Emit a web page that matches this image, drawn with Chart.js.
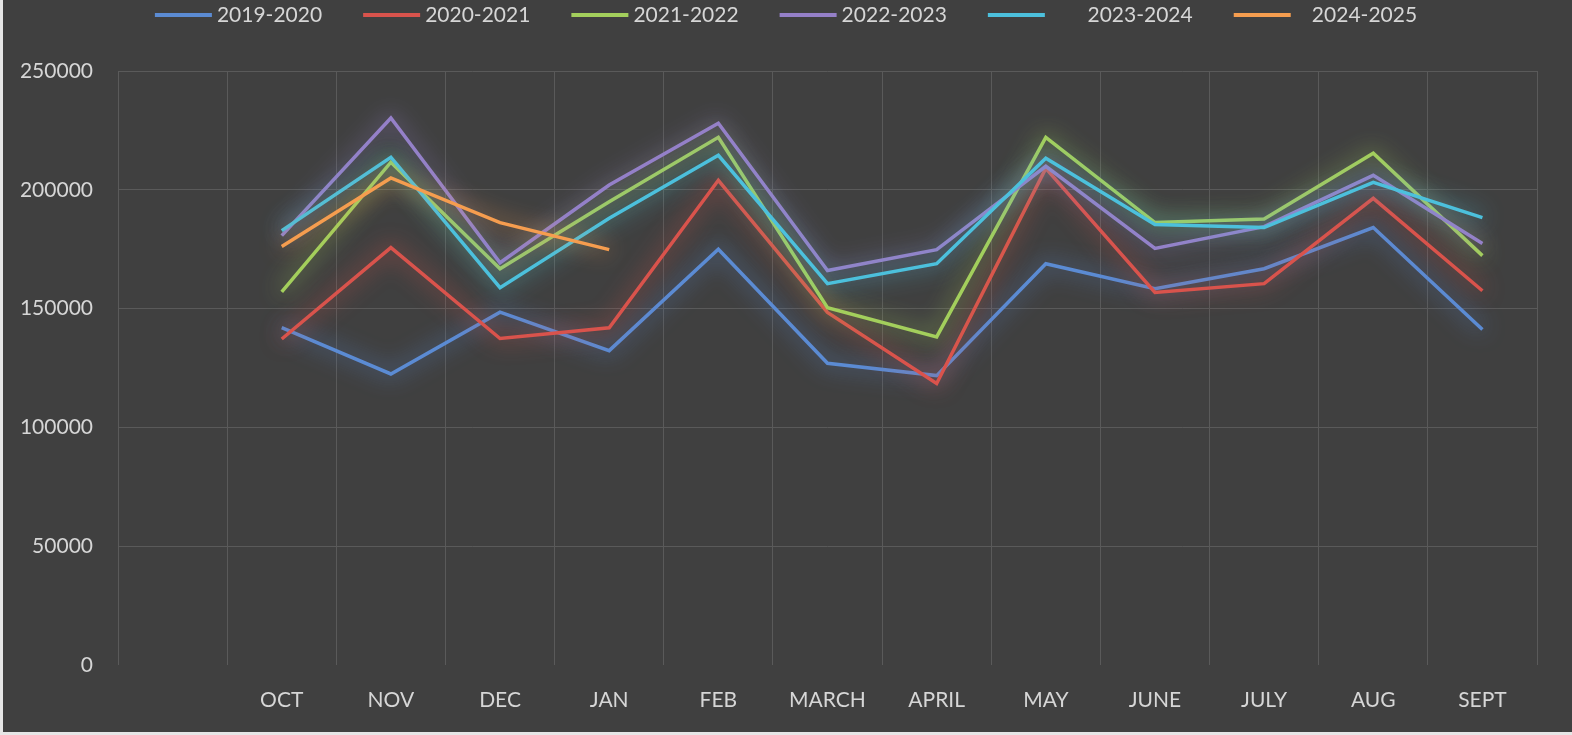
<!DOCTYPE html>
<html>
<head>
<meta charset="utf-8">
<title>Monthly totals by year</title>
<script src="https://cdn.jsdelivr.net/npm/chart.js@4.4.1/dist/chart.umd.min.js"></script>
<style>
    html, body { margin: 0; padding: 0; background: #e6e6e6; }
    canvas { display: block; }
</style>
</head>
<body>
<canvas id="yearChart" width="1572" height="735"></canvas>
<script>
// Chart data (first slot is an empty category, as in the original sheet)
const months = ['', 'OCT', 'NOV', 'DEC', 'JAN', 'FEB', 'MARCH', 'APRIL', 'MAY', 'JUNE', 'JULY', 'AUG', 'SEPT'];

const y2019 = [null, 142000, 122500, 148500, 132300, 175000, 127000, 121800, 168900, 158400, 166800, 184100, 141200];
const y2020 = [null, 137200, 175700, 137400, 141900, 204000, 148400, 118500, 209000, 156800, 160500, 196400, 157500];
const y2021 = [null, 157000, 211600, 166800, 195000, 222100, 150400, 138100, 222100, 186200, 187700, 215400, 172300];
const y2022 = [null, 180700, 230200, 169300, 202000, 228000, 166000, 174800, 209900, 175300, 184500, 206100, 177400];
const y2023 = [null, 182800, 213700, 158800, 188000, 214500, 160500, 168900, 213300, 185400, 184100, 203100, 188300];
const y2024 = [null, 176100, 205000, 186200, 174800, null, null, null, null, null, null, null, null];

const yTicks = [0, 50000, 100000, 150000, 200000, 250000];

const seriesNames = ['2019-2020', '2020-2021', '2021-2022', '2022-2023', '       2023-2024', '   2024-2025'];
const seriesColors = ['#5b8bd3', '#d9534c', '#a3cf5c', '#9580c8', '#4cc0dc', '#f59d4f'];

const textColor = '#d6d6d6';
const gridColor = '#5a5a5a';
const fontFamily = 'Lato, "Liberation Sans", sans-serif';

// Dark background with the thin light frame on the left/bottom edge
const backgroundPlugin = {
    id: 'darkBackground',
    beforeDraw(chart) {
        const ctx = chart.ctx;
        ctx.save();
        ctx.fillStyle = '#e6e6e6';
        ctx.fillRect(0, 0, chart.width, chart.height);
        ctx.fillStyle = '#404040';
        ctx.fillRect(3, 0, chart.width - 3, chart.height - 3);
        ctx.restore();
    }
};

// Soft glow behind every line
const glowPlugin = {
    id: 'lineGlow',
    beforeDatasetDraw(chart, args) {
        const ds = chart.data.datasets[args.index];
        chart.ctx.save();
        chart.ctx.shadowColor = ds.borderColor;
        chart.ctx.shadowBlur = 22;
    },
    afterDatasetDraw(chart) {
        chart.ctx.restore();
    }
};

// Legend row along the top edge, line sample + label
const legendPlugin = {
    id: 'topLegend',
    afterDraw(chart) {
        const ctx = chart.ctx;
        const datasets = chart.data.datasets;
        const lineLen = 57, textGap = 5, itemGap = 41, y = 15;
        ctx.save();
        ctx.font = '21px ' + fontFamily;
        const widths = datasets.map(ds => lineLen + textGap + ctx.measureText(ds.label).width);
        const total = widths.reduce((a, b) => a + b, 0) + itemGap * (datasets.length - 1);
        let x = (chart.width - total) / 2;
        datasets.forEach((ds, i) => {
            ctx.strokeStyle = ds.borderColor;
            ctx.lineWidth = 4;
            ctx.beginPath();
            ctx.moveTo(x, y);
            ctx.lineTo(x + lineLen, y);
            ctx.stroke();
            ctx.fillStyle = textColor;
            ctx.textAlign = 'left';
            ctx.textBaseline = 'middle';
            ctx.fillText(ds.label, x + lineLen + textGap, y);
            x += widths[i] + itemGap;
        });
        ctx.restore();
    }
};

function buildDatasets() {
    const values = [y2019, y2020, y2021, y2022, y2023, y2024];
    return values.map((data, i) => ({
        label: seriesNames[i],
        data: data,
        borderColor: seriesColors[i],
        backgroundColor: seriesColors[i],
        borderWidth: 3.5,
        pointRadius: 0,
        tension: 0,
        spanGaps: false,
        // later seasons drawn on top
        order: values.length - i
    }));
}

function initializeChart() {
    const ctx = document.getElementById('yearChart').getContext('2d');
    new Chart(ctx, {
        type: 'line',
        data: {
            labels: months,
            datasets: buildDatasets()
        },
        options: {
            responsive: false,
            animation: false,
            layout: {
                padding: { top: 71, right: 35, left: 0, bottom: 0 }
            },
            plugins: {
                legend: { display: false },
                tooltip: { enabled: false }
            },
            scales: {
                x: {
                    offset: true,
                    grid: {
                        offset: true,
                        color: gridColor,
                        drawTicks: false
                    },
                    border: { display: false },
                    ticks: {
                        color: textColor,
                        font: { family: fontFamily, size: 21 },
                        padding: 23,
                        maxRotation: 0,
                        autoSkip: false
                    },
                    afterFit(scale) {
                        scale.height = 70;
                    }
                },
                y: {
                    min: yTicks[0],
                    max: yTicks[yTicks.length - 1],
                    grid: {
                        color: c => (c.tick && c.tick.value === 0 ? 'rgba(0,0,0,0)' : gridColor),
                        drawTicks: false
                    },
                    border: { display: false },
                    afterBuildTicks(scale) {
                        scale.ticks = yTicks.map(v => ({ value: v }));
                    },
                    ticks: {
                        color: textColor,
                        font: { family: fontFamily, size: 21 },
                        padding: 25,
                        callback: v => String(v)
                    },
                    afterFit(scale) {
                        scale.width = 118;
                    }
                }
            }
        },
        plugins: [backgroundPlugin, glowPlugin, legendPlugin]
    });
}

document.addEventListener('DOMContentLoaded', () => {
    document.fonts.load('21px Lato').then(initializeChart, initializeChart);
});
</script>
</body>
</html>
